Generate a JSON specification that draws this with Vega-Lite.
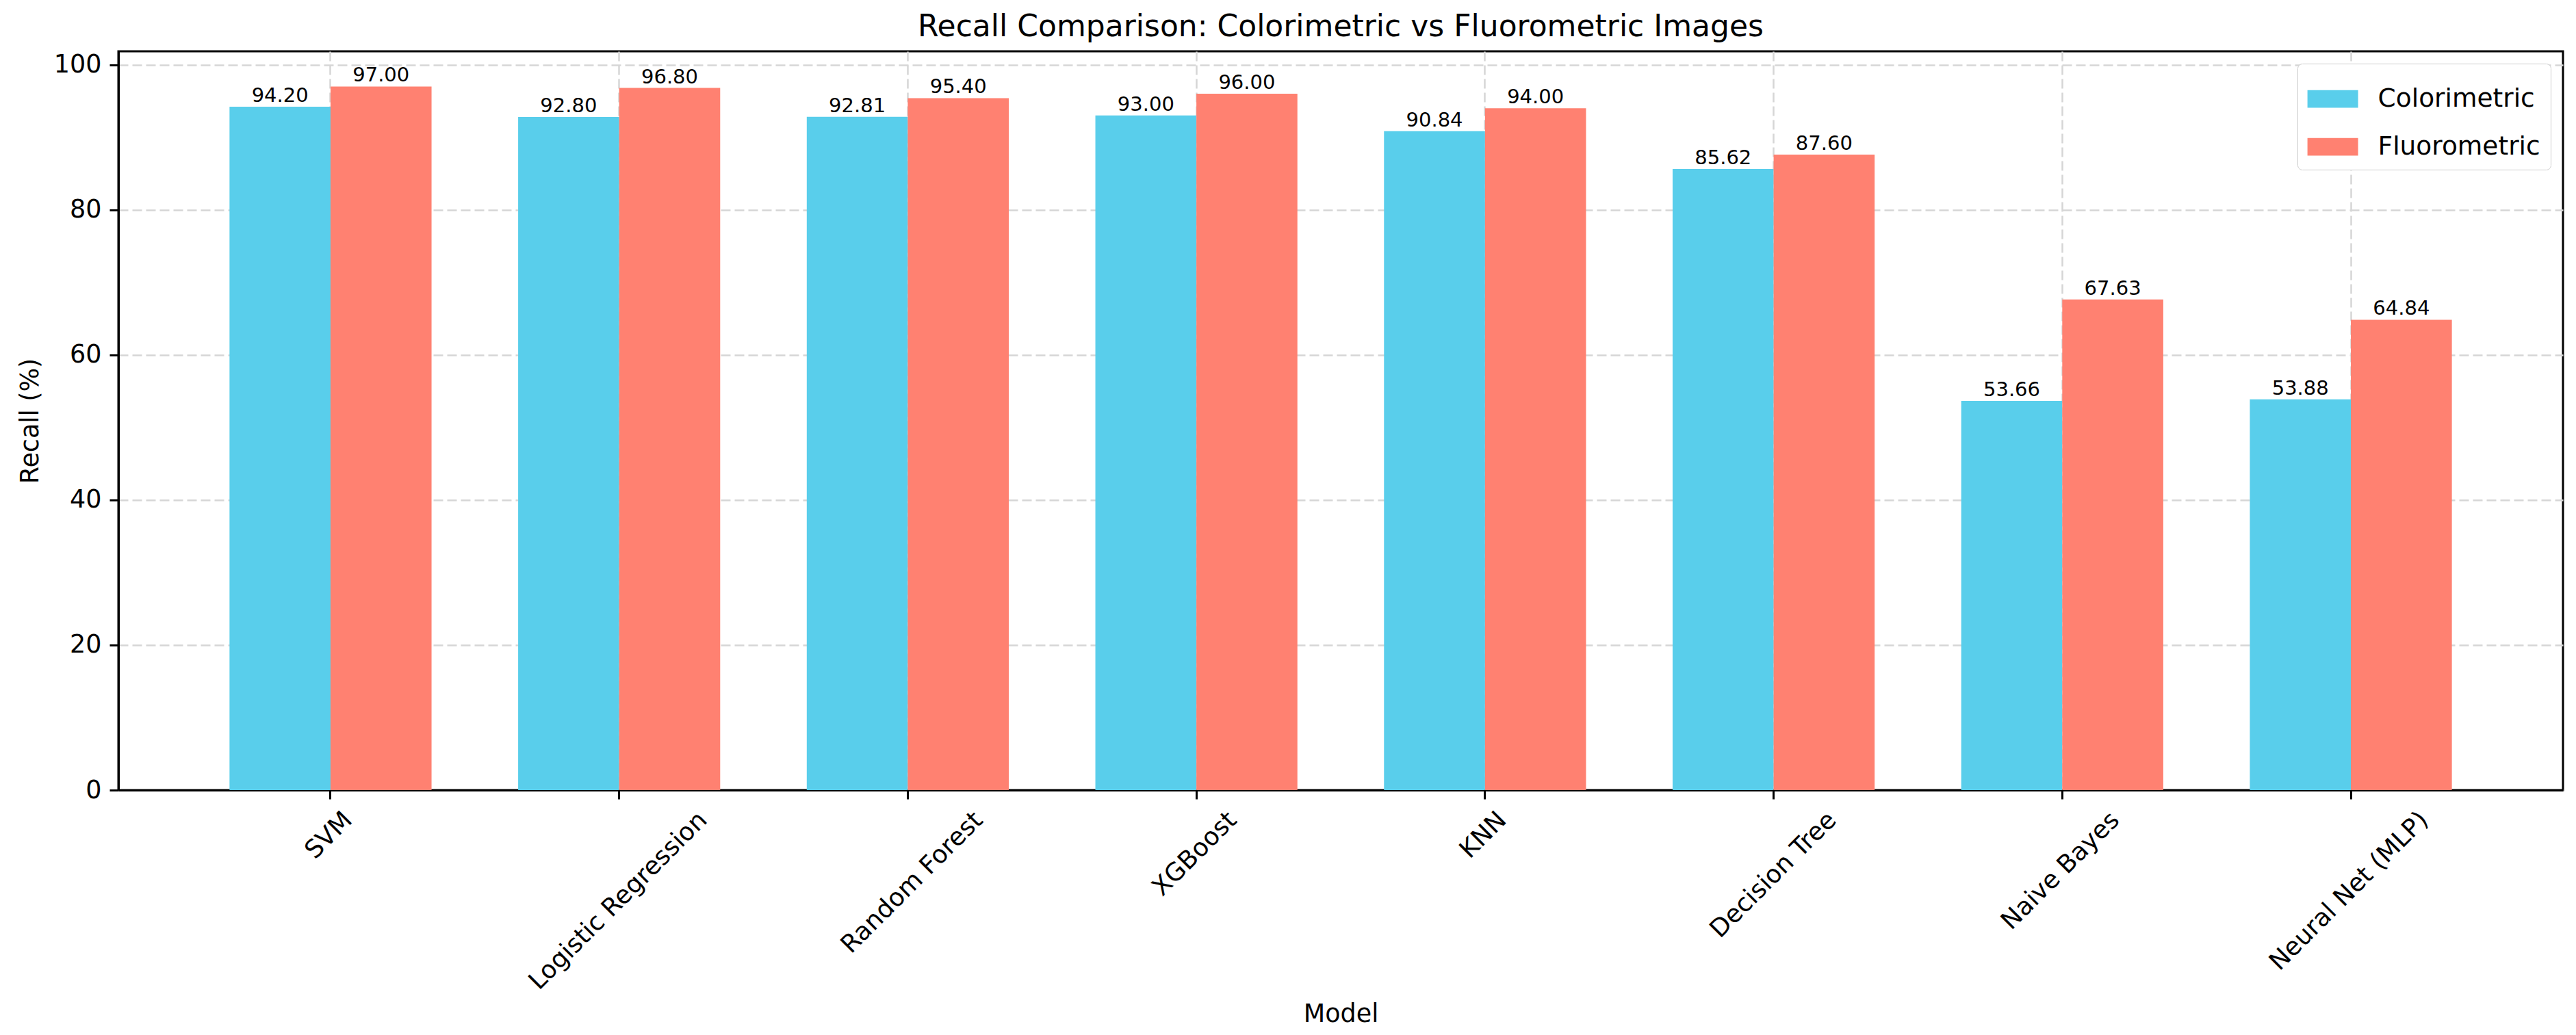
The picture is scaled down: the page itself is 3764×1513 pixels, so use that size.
{
  "$schema": "https://vega.github.io/schema/vega-lite/v6.json",
  "width": 3572,
  "height": 1080,
  "autosize": {"type": "none"},
  "padding": {"left": 173, "top": 75, "right": 19, "bottom": 358},
  "background": "white",
  "title": {
    "text": "Recall Comparison: Colorimetric vs Fluorometric Images",
    "fontSize": 44,
    "font": "DejaVu Sans",
    "fontWeight": "normal",
    "color": "black",
    "anchor": "middle",
    "baseline": "bottom",
    "offset": 14,
    "dy": 45,
    "frame": "group"
  },
  "data": {
    "values": [
      {"model": "SVM", "series": "Colorimetric", "recall": 94.20},
      {"model": "SVM", "series": "Fluorometric", "recall": 97.00},
      {"model": "Logistic Regression", "series": "Colorimetric", "recall": 92.80},
      {"model": "Logistic Regression", "series": "Fluorometric", "recall": 96.80},
      {"model": "Random Forest", "series": "Colorimetric", "recall": 92.81},
      {"model": "Random Forest", "series": "Fluorometric", "recall": 95.40},
      {"model": "XGBoost", "series": "Colorimetric", "recall": 93.00},
      {"model": "XGBoost", "series": "Fluorometric", "recall": 96.00},
      {"model": "KNN", "series": "Colorimetric", "recall": 90.84},
      {"model": "KNN", "series": "Fluorometric", "recall": 94.00},
      {"model": "Decision Tree", "series": "Colorimetric", "recall": 85.62},
      {"model": "Decision Tree", "series": "Fluorometric", "recall": 87.60},
      {"model": "Naive Bayes", "series": "Colorimetric", "recall": 53.66},
      {"model": "Naive Bayes", "series": "Fluorometric", "recall": 67.63},
      {"model": "Neural Net (MLP)", "series": "Colorimetric", "recall": 53.88},
      {"model": "Neural Net (MLP)", "series": "Fluorometric", "recall": 64.84}
    ]
  },
  "encoding": {
    "x": {
      "field": "model",
      "type": "nominal",
      "sort": null,
      "scale": {"paddingInner": 0.3, "paddingOuter": 0.385},
      "axis": {
        "title": "Model",
        "titleFontSize": 36.5,
        "titleFontWeight": "normal",
        "titleColor": "black",
        "titlePadding": 109,
        "labelAngle": -45,
        "labelAlign": "right",
        "labelBaseline": "top",
        "labelFontSize": 36.5,
        "labelColor": "black",
        "labelLimit": 2000,
        "labelPadding": 12,
        "labelOverlap": false,
        "tickSize": 13,
        "tickWidth": 3,
        "tickColor": "black",
        "domainColor": "black",
        "domainWidth": 3,
        "bandPosition": 0.5,
        "grid": true,
        "gridColor": "#d6d6d6",
        "gridDash": [14, 6],
        "gridWidth": 2.5,
        "encoding": {
          "labels": {
            "dx": {"value": {"expr": "0.25*(36.5*(datum.value=='SVM'?2.18:datum.value=='Logistic Regression'?9.68:datum.value=='Random Forest'?8.21:datum.value=='XGBoost'?4.28:datum.value=='KNN'?2.15:datum.value=='Decision Tree'?6.83:datum.value=='Naive Bayes'?6.19:8.49)-42.7)"}},
            "dy": {"value": {"expr": "0.25*(36.5*(datum.value=='SVM'?2.18:datum.value=='Logistic Regression'?9.68:datum.value=='Random Forest'?8.21:datum.value=='XGBoost'?4.28:datum.value=='KNN'?2.15:datum.value=='Decision Tree'?6.83:datum.value=='Naive Bayes'?6.19:8.49)-42.7)"}}
          }
        }
      }
    },
    "xOffset": {
      "field": "series",
      "type": "nominal",
      "scale": {"domain": ["Colorimetric", "Fluorometric"], "paddingInner": 0, "paddingOuter": 0}
    },
    "y": {
      "field": "recall",
      "type": "quantitative",
      "scale": {"domain": [0, 101.85], "nice": false, "zero": true},
      "axis": {
        "title": "Recall (%)",
        "titleFontSize": 36.5,
        "titleFontWeight": "normal",
        "titleColor": "black",
        "titlePadding": 15,
        "values": [0, 20, 40, 60, 80, 100],
        "labelFontSize": 36.5,
        "labelColor": "black",
        "labelPadding": 12,
        "tickSize": 13,
        "tickWidth": 3,
        "tickColor": "black",
        "domainColor": "black",
        "domainWidth": 3,
        "grid": true,
        "gridColor": "#d6d6d6",
        "gridDash": [14, 6],
        "gridWidth": 2.5
      }
    }
  },
  "layer": [
    {
      "mark": {"type": "bar"},
      "encoding": {
        "color": {
          "field": "series",
          "type": "nominal",
          "scale": {"domain": ["Colorimetric", "Fluorometric"], "range": ["#59CEEB", "#FF8171"]},
          "legend": {
            "title": null,
            "orient": "top-right",
            "offset": 18,
            "padding": 14.6,
            "fillColor": "white",
            "strokeColor": "#cccccc",
            "cornerRadius": 7,
            "symbolType": "M-1,-0.35H1V0.35H-1Z",
            "symbolSize": 5476,
            "symbolStrokeWidth": 0,
            "symbolOpacity": 1,
            "labelFontSize": 37.5,
            "labelColor": "black",
            "labelOffset": 29,
            "labelLimit": 1000,
            "rowPadding": 14
          }
        }
      }
    },
    {
      "mark": {"type": "text", "baseline": "alphabetic", "dy": -7, "fontSize": 29, "color": "black", "font": "DejaVu Sans"},
      "encoding": {
        "text": {"field": "recall", "type": "quantitative", "format": ".2f"}
      }
    }
  ],
  "config": {
    "font": "DejaVu Sans",
    "view": {"stroke": "black", "strokeWidth": 3},
    "axis": {"labelFont": "DejaVu Sans", "titleFont": "DejaVu Sans"},
    "legend": {"labelFont": "DejaVu Sans"}
  }
}
